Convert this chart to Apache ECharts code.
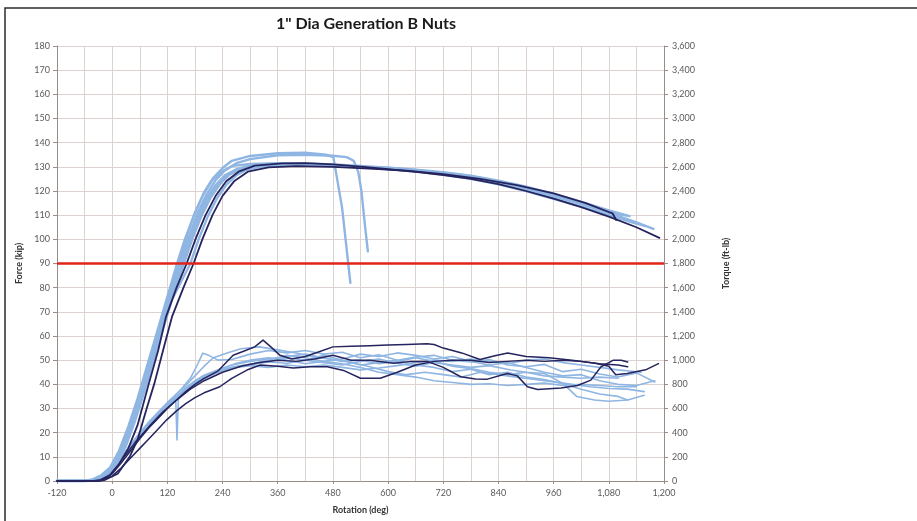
<!DOCTYPE html>
<html>
<head>
<meta charset="utf-8">
<script src="https://cdn.jsdelivr.net/npm/echarts@6/dist/echarts.min.js"></script>
<style>
  html, body { margin: 0; padding: 0; background: #ffffff; }
  #chart { width: 917px; height: 521px; }
</style>
</head>
<body>
<div id="chart"></div>
<script>
// Axis ranges and labels
const rotationTicks = [-120, 0, 120, 240, 360, 480, 600, 720, 840, 960, 1080, 1200];
const forceMax = 180;
const torqueMax = 3600;
const preloadForce = 90; // kip, horizontal reference

// Force vs rotation (kip), light-blue tests
const forceL1 = [[-120,0],[-60,0],[-40,0.4],[-25,1.5],[-10,4],[0,6.5],[20,14],[40,24],[60,36],[80,49],[100,62],[120,75],[143,90],[160,100],[180,111],[200,119.5],[220,125.5],[240,129.5],[260,132.5],[300,134.5],[360,135.6],[420,135.8],[465,135],[481,134],[500,113],[518,82]];
const forceL2 = [[-120,0],[-60,0],[-35,0.6],[-15,3],[0,6],[20,13],[40,23],[60,35],[80,47.5],[100,60.5],[120,73],[148,90],[165,100],[185,110.5],[205,118.5],[225,124.5],[245,128.5],[270,131.5],[300,133.2],[360,134.8],[420,135],[480,134.6],[510,134],[525,132.5],[535,128],[542,120],[549,107],[556,95]];
const forceL3 = [[-120,0],[-60,0],[-40,0.3],[-20,2],[0,6],[20,13],[40,23],[60,35],[80,48],[100,61],[120,74],[147,90],[165,100],[185,109],[205,117],[225,122.5],[245,126.5],[270,129],[300,130.5],[360,131.2],[420,131.2],[480,130.8],[540,130],[600,129.3],[660,128.3],[720,127.2],[780,125.6],[840,123.5],[900,120.8],[960,117.8],[1020,114.6],[1080,111],[1140,107],[1177,104.3]];
const forceL4 = [[-120,0],[-55,0],[-35,0.5],[-15,2.5],[0,5.5],[20,12],[40,22],[60,33.5],[80,46],[100,59],[120,71.5],[152,90],[170,100],[190,109.5],[210,117],[230,122.5],[250,126.5],[275,129],[300,130.2],[360,131],[420,131],[480,130.6],[540,130],[600,129.6],[660,128.8],[720,127.8],[780,126.3],[840,124.3],[900,121.8],[960,118.8],[1020,115.5],[1080,112],[1125,109.6]];
const forceL5 = [[-120,0],[-60,0],[-40,0.4],[-20,2],[0,5.5],[20,12.5],[40,22],[60,33],[80,45],[100,57.5],[120,70],[156,90],[175,100.5],[195,110],[215,117.5],[235,123],[255,126.8],[280,129],[310,130.2],[360,130.6],[420,130.6],[480,130.3],[540,129.8],[600,129],[660,128],[720,126.8],[780,125],[840,122.8],[900,120],[960,116.8],[1020,113.5],[1080,110],[1130,107],[1160,105.5]];
const forceL6 = [[-120,0],[-65,0],[-45,0.5],[-25,2.2],[-5,5.5],[15,12.5],[35,22.5],[55,34],[75,47],[95,60],[115,73],[141,90],[158,100],[178,110],[198,118.5],[218,124.5],[238,128],[262,130.4],[300,131.2],[360,131.5],[420,131.4],[480,131],[540,130.4],[600,129.6],[660,128.7],[720,127.5],[780,126],[840,124],[900,121.3],[960,118.2],[1020,114.8],[1080,111.2],[1100,110.5]];
const forceL7 = [[-120,0],[-50,0],[-30,0.5],[-10,2.5],[10,7],[30,14.5],[50,25],[70,37],[90,50],[110,62.5],[130,75],[170,90],[188,100],[208,109.5],[228,117],[248,122.5],[270,126.5],[295,129],[330,130.3],[400,130.8],[480,130.5],[560,129.8],[640,128.8],[720,127.5],[800,125.5],[880,122.5],[960,118.5],[1040,114],[1100,110.5],[1120,109.8]];

// Force vs rotation (kip), dark tests
const forceD1 = [[-120,0],[-40,0],[-25,0.5],[-5,2.5],[15,7],[35,13.5],[55,23],[80,40.5],[100,54],[117,67.9],[140,80],[162,90],[181,100],[203,110],[225,118],[248,124],[275,128],[310,130.5],[370,131.4],[420,131.5],[480,131],[540,130.1],[600,129],[660,127.9],[720,126.6],[780,125],[840,122.8],[900,120],[960,116.8],[1020,113.3],[1080,109.4],[1140,105],[1190,100.6]];
const forceD2 = [[-120,0],[-30,0],[-15,0.5],[12,3],[38,10],[55,17],[75,30],[92,40.5],[112,55],[130,67.9],[155,80],[177,90],[196,100],[218,110],[240,118],[265,124],[295,128],[340,129.8],[400,130.3],[480,130],[560,129.3],[640,128.4],[720,127],[800,125],[880,122.4],[960,119],[1030,115],[1080,111.3],[1088,110.8],[1096,108]];

// Torque vs rotation (ft-lb), light-blue tests
const torqueL1 = [[-120,0],[-60,0],[-40,10],[-20,40],[0,100],[20,190],[40,290],[60,390],[80,480],[100,560],[120,640],[150,760],[170,850],[185,960],[197,1058],[210,1040],[230,1000],[260,1005],[300,1050],[340,1080],[380,1060],[420,1080],[460,1050],[500,1065],[540,1020],[580,1045],[620,1000],[660,1025],[700,1040],[740,1000],[780,985],[820,1005],[860,960],[900,945],[940,965],[980,905],[1020,925],[1060,885],[1100,860],[1140,895],[1180,820]];
const torqueL2 = [[-120,0],[-55,0],[-35,15],[-15,50],[5,120],[25,210],[45,310],[65,400],[85,490],[105,570],[125,640],[138,700],[141,340],[144,690],[160,760],[180,820],[200,870],[230,910],[260,940],[300,960],[340,990],[380,1020],[420,1000],[460,1040],[500,1000],[540,960],[580,980],[620,1000],[660,960],[700,940],[740,905],[780,925],[820,880],[860,900],[900,860],[940,840],[980,805],[1020,760],[1060,720],[1100,700],[1121,670]];
const torqueL3 = [[-120,0],[-60,0],[-40,10],[-20,45],[0,110],[20,200],[40,300],[60,400],[80,490],[100,570],[120,650],[140,720],[160,790],[180,870],[200,950],[220,1020],[250,1060],[280,1095],[320,1110],[360,1085],[400,1060],[440,1025],[480,1005],[520,980],[560,945],[600,905],[640,880],[680,900],[720,880],[760,860],[800,900],[840,880],[880,860],[920,840],[960,820],[1000,800],[1040,780],[1080,765],[1120,760],[1157,740]];
const torqueL4 = [[-120,0],[-50,0],[-30,20],[-10,60],[10,140],[30,230],[50,330],[70,420],[90,505],[110,585],[130,655],[150,725],[170,785],[190,835],[210,880],[240,930],[270,975],[300,1000],[340,1020],[380,1000],[420,970],[460,990],[500,1010],[540,1050],[580,1030],[620,1060],[660,1040],[700,1010],[740,1030],[780,990],[820,960],[860,980],[900,940],[940,900],[980,870],[1020,880],[1060,830],[1100,800],[1140,790],[1180,830]];
const torqueL5 = [[-120,0],[-55,0],[-35,15],[-15,55],[5,130],[25,220],[45,320],[65,410],[85,495],[105,575],[125,645],[145,715],[165,775],[185,830],[210,885],[240,925],[270,950],[300,965],[340,985],[380,975],[420,1000],[460,980],[500,960],[540,990],[580,1010],[620,975],[660,950],[700,980],[740,960],[780,940],[820,955],[867,918],[900,900],[940,890],[980,808],[1010,700],[1049,670],[1080,660],[1121,670],[1157,710]];
const torqueL6 = [[-120,0],[-60,0],[-40,10],[-20,40],[0,100],[20,185],[40,280],[60,375],[80,465],[100,545],[120,615],[140,685],[160,745],[180,800],[200,845],[230,900],[260,935],[300,955],[340,940],[380,960],[420,945],[460,960],[500,940],[540,920],[580,935],[620,955],[660,980],[700,1000],[740,990],[780,1010],[820,990],[860,970],[900,1000],[940,1010],[980,980],[1020,960],[1060,940],[1100,920],[1150,900]];
const torqueL7 = [[-120,0],[-55,0],[-35,10],[-15,45],[5,115],[25,205],[45,300],[65,395],[85,480],[105,560],[125,630],[145,700],[165,765],[185,820],[210,875],[240,915],[270,945],[300,965],[340,1000],[380,1040],[420,1020],[460,990],[500,970],[540,940],[580,900],[620,880],[660,860],[700,830],[740,815],[780,800],[820,805],[860,790],[900,800],[940,810],[980,790],[1020,800],[1060,790],[1100,780],[1140,780]];
const torqueL8 = [[-120,0],[-60,0],[-40,12],[-20,45],[0,105],[20,195],[40,295],[60,390],[80,480],[100,560],[120,630],[140,700],[160,770],[180,830],[200,875],[230,920],[260,960],[300,990],[340,1010],[380,1030],[420,1050],[460,1020],[500,990],[540,1000],[580,970],[620,990],[660,1020],[700,990],[740,950],[780,930],[820,900],[860,880],[900,900],[940,870],[980,860],[1020,850],[1060,860],[1100,850]];

// Torque vs rotation (ft-lb), dark tests
const torqueD1 = [[-120,0],[-40,0],[-15,20],[0,60],[20,150],[40,250],[60,350],[80,440],[100,520],[120,600],[140,670],[160,740],[180,800],[200,850],[230,910],[263,1041],[290,1080],[310,1110],[328,1166],[345,1110],[365,1040],[390,1010],[420,1030],[450,1070],[480,1110],[520,1115],[560,1120],[600,1125],[640,1130],[685,1135],[700,1130],[720,1100],[760,1060],[800,1005],[830,1035],[860,1060],[900,1030],[950,1020],[1000,1000],[1050,975],[1080,950],[1095,880],[1120,890],[1160,920],[1188,972]];
const torqueD2 = [[-120,0],[-30,0],[0,40],[20,110],[40,190],[60,270],[80,350],[100,430],[118,504],[140,580],[160,640],[180,690],[200,730],[234,780],[260,850],[293,918],[322,960],[360,950],[394,935],[430,945],[468,945],[503,915],[540,850],[583,850],[620,900],[660,960],[700,990],[740,1000],[780,1000],[820,980],[860,990],[900,1000],[940,990],[980,1000],[1020,990],[1060,970],[1100,960],[1121,945]];
const torqueD3 = [[-120,0],[-40,0],[-10,40],[20,170],[50,320],[80,450],[110,570],[140,670],[170,760],[200,830],[240,900],[280,950],[320,980],[360,1000],[400,990],[440,1010],[480,1040],[520,1000],[560,1000],[612,975],[650,990],[685,990],[720,940],[758,863],[790,845],[816,843],[859,890],[881,870],[903,780],[925,758],[976,770],[1012,790],[1041,835],[1063,945],[1090,1000],[1107,1000],[1121,985]];

const LIGHT = '#8fb6e3';
const DARK = '#25245e';
const RED = '#e2231a';

const forceLight = [forceL1, forceL2, forceL3, forceL4, forceL5, forceL6, forceL7];
const forceDark = [forceD1, forceD2];
const torqueLight = [torqueL1, torqueL2, torqueL3, torqueL4, torqueL5, torqueL6, torqueL7, torqueL8];
const torqueDark = [torqueD1, torqueD2, torqueD3];

function lineSeries(data, color, width, yAxisIndex) {
  return {
    type: 'line', data: data, yAxisIndex: yAxisIndex, showSymbol: false, smooth: false,
    lineStyle: { color: color, width: width, join: 'round', cap: 'round' }, silent: true, z: 3
  };
}

const series = [];
torqueLight.forEach(d => series.push(lineSeries(d, LIGHT, 1.6, 1)));
torqueDark.forEach(d => series.push(lineSeries(d, DARK, 1.5, 1)));
forceLight.forEach(d => series.push(lineSeries(d, LIGHT, 2.4, 0)));
forceDark.forEach(d => series.push(lineSeries(d, DARK, 1.8, 0)));
series.push({
  type: 'line', yAxisIndex: 0, showSymbol: false, silent: true, z: 4,
  data: [[rotationTicks[0], preloadForce], [rotationTicks[rotationTicks.length - 1], preloadForce]],
  lineStyle: { color: RED, width: 2.5 }
});

const FONT = 'Lato, "Open Sans", sans-serif';
const GRID_COLOR = '#dcd2cf';
const AXIS_COLOR = '#9a8c89';
const LABEL_COLOR = '#5a5a5a';
const fmt = v => Number(v).toLocaleString('en-US');

const chart = echarts.init(document.getElementById('chart'), null, { renderer: 'canvas' });
chart.setOption({
  animation: false,
  backgroundColor: '#ffffff',
  title: {
    text: '1" Dia Generation B Nuts',
    left: 361, top: 11, textAlign: 'center',
    textStyle: { fontFamily: FONT, fontSize: 16, fontWeight: 'bold', color: '#1a1a1a' }
  },
  grid: { left: 57, right: 253, top: 46, bottom: 40 },
  xAxis: {
    type: 'value', min: rotationTicks[0], max: rotationTicks[rotationTicks.length - 1], interval: 120,
    name: 'Rotation (deg)', nameLocation: 'middle', nameGap: 25,
    nameTextStyle: { fontFamily: FONT, fontSize: 9, fontWeight: 'bold', color: '#333' },
    axisLine: { show: true, onZero: false, lineStyle: { color: AXIS_COLOR, width: 1 } },
    axisTick: { show: true, length: 3, lineStyle: { color: AXIS_COLOR } },
    axisLabel: { fontFamily: FONT, fontSize: 9, color: LABEL_COLOR, margin: 8, formatter: fmt },
    splitLine: { show: true, lineStyle: { color: GRID_COLOR, width: 1 } },
    minorTick: { show: false, splitNumber: 2 },
    minorSplitLine: { show: true, lineStyle: { color: GRID_COLOR, width: 1 } }
  },
  yAxis: [
    {
      type: 'value', min: 0, max: forceMax, interval: 10, position: 'left',
      name: 'Force (kip)', nameLocation: 'middle', nameGap: 33, nameRotate: 90,
      nameTextStyle: { fontFamily: FONT, fontSize: 9, fontWeight: 'bold', color: '#333' },
      axisLine: { show: true, onZero: false, lineStyle: { color: AXIS_COLOR, width: 1 } },
      axisTick: { show: true, length: 4, lineStyle: { color: AXIS_COLOR } },
      axisLabel: { fontFamily: FONT, fontSize: 9, color: LABEL_COLOR, margin: 7 },
      splitLine: { show: true, lineStyle: { color: GRID_COLOR, width: 1 } }
    },
    {
      type: 'value', min: 0, max: torqueMax, interval: 200, position: 'right',
      name: 'Torque (ft-lb)', nameLocation: 'middle', nameGap: 58, nameRotate: 90,
      nameTextStyle: { fontFamily: FONT, fontSize: 9, fontWeight: 'bold', color: '#333' },
      axisLine: { show: true, onZero: false, lineStyle: { color: AXIS_COLOR, width: 1 } },
      axisTick: { show: true, length: 4, lineStyle: { color: AXIS_COLOR } },
      axisLabel: { fontFamily: FONT, fontSize: 9, color: LABEL_COLOR, margin: 8, formatter: fmt },
      splitLine: { show: false }
    }
  ],
  graphic: [
    { type: 'polyline', silent: true, z: 10,
      shape: { points: [[5, 530], [5, 8], [930, 8]] },
      style: { stroke: '#2b2b2b', lineWidth: 1.5, fill: null } }
  ],
  series: series
});
</script>
</body>
</html>
